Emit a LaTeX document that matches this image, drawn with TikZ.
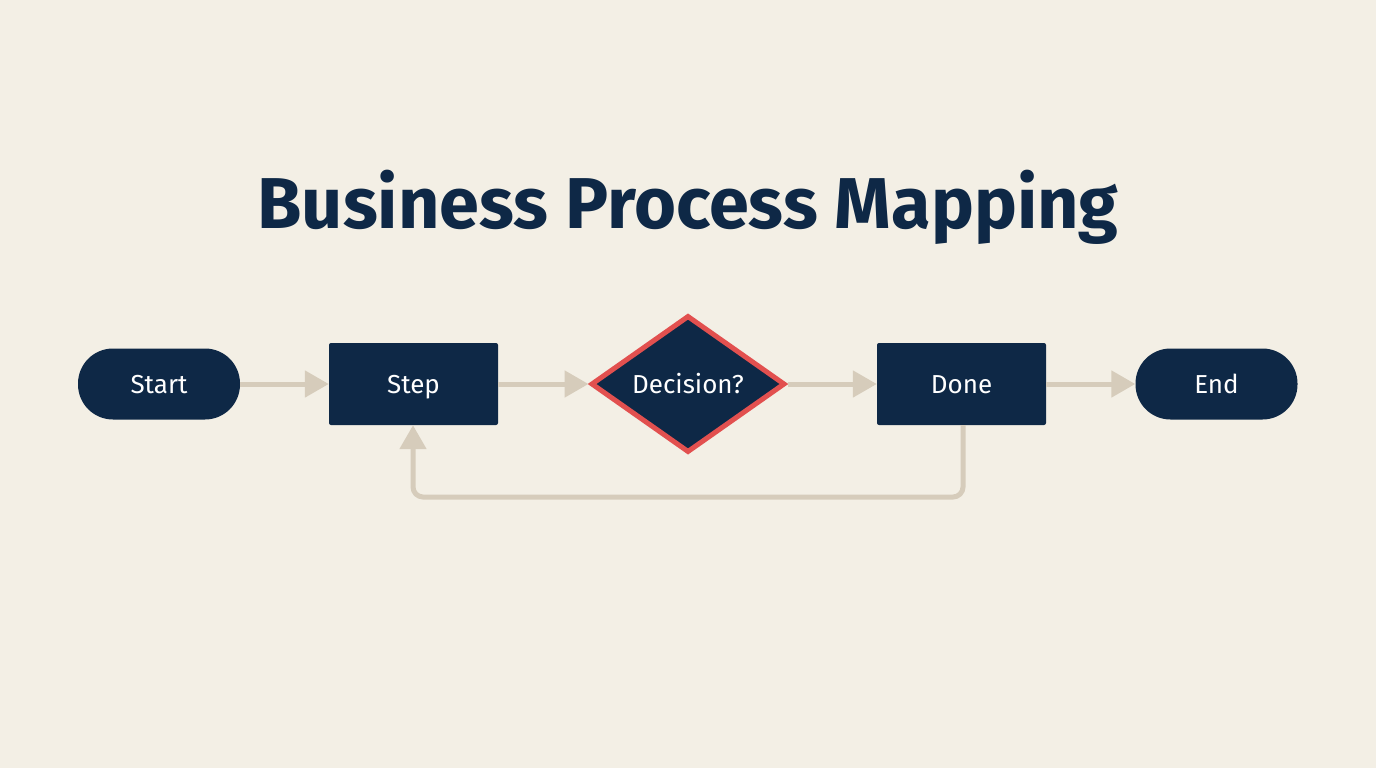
\documentclass[tikz,border=0pt]{standalone}
\usepackage{fontspec}
\setmainfont{Fira Sans}
\usetikzlibrary{shapes.geometric,arrows.meta}
\definecolor{bg}{HTML}{F3EFE5}
\definecolor{navy}{HTML}{0E2846}
\definecolor{redb}{HTML}{E2504F}
\definecolor{conn}{HTML}{D6CCBB}
\tikzset{
  lbl/.style={text=white, font=\fontsize{26}{30}\selectfont, text height=20pt, text depth=2pt},
  stadium/.style={lbl, fill=navy, rounded corners=35pt, minimum width=162pt, minimum height=71pt, inner sep=0pt},
  stepbox/.style={lbl, fill=navy, rounded corners=2pt, minimum width=169pt, minimum height=82pt, inner sep=0pt},
  decide/.style={lbl, diamond, fill=navy, draw=redb, line width=5pt, minimum width=194pt, minimum height=137pt, inner sep=0pt},
  conn/.style={draw=conn, line width=5pt, -{Triangle[length=24pt,width=26pt]}},
}
\begin{document}
\begin{tikzpicture}[x=1pt,y=-1pt]
\fill[bg] (0,0) rectangle (1376,768);
\useasboundingbox (0,0) rectangle (1376,768);
\node[text=navy, font=\fontsize{72}{80}\selectfont\bfseries, anchor=base] (title) at (688,228) {Business Process Mapping};
\node[stadium] (start) at (159,384) {Start};
\node[stepbox] (step) at (413.5,384) {Step};
\node[decide] (dec) at (688,384) {Decision?};
\node[stepbox] (done) at (961.5,384) {Done};
\node[stadium] (end) at (1216.5,384) {End};
\draw[conn] (start.east) -- (step.west);
\draw[conn] (step.east) -- (dec.west);
\draw[conn] (dec.east) -- (done.west);
\draw[conn] (done.east) -- (end.west);
\coordinate (loopr) at (963,497);
\coordinate (loopl) at (413,497);
\draw[conn, rounded corners=10pt] (done.south -| loopr) -- (loopr) -- (loopl) -- (step.south -| loopl);
\end{tikzpicture}
\end{document}
